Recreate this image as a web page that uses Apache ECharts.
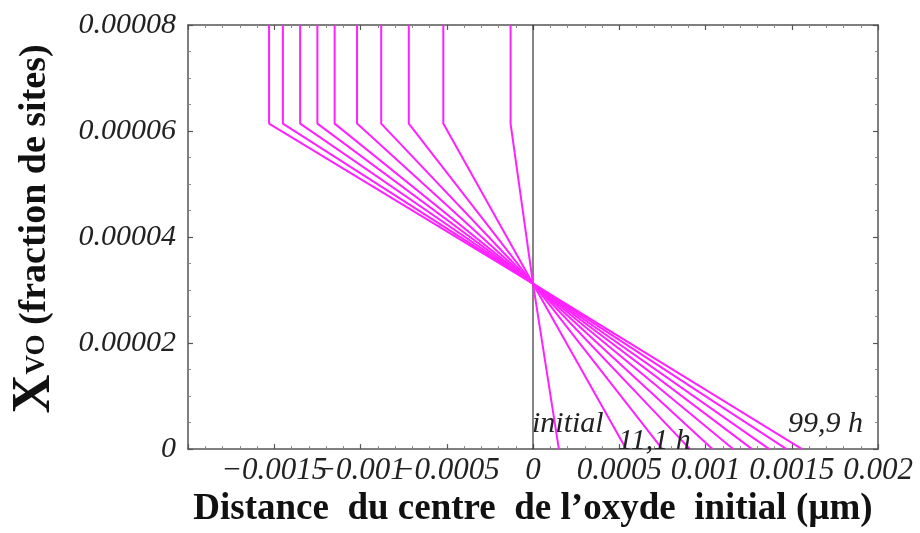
<!DOCTYPE html>
<html>
<head>
<meta charset="utf-8">
<script src="https://cdn.jsdelivr.net/npm/echarts@6/dist/echarts.min.js"></script>
<style>
  html, body { margin: 0; padding: 0; background: #fff; }
  #chart { width: 920px; height: 533px; }
</style>
</head>
<body>
<div id="chart"></div>
<script>
// Durations of each profile (series names)
var seriesNames = ['initial', '11,1 h', '22,2 h', '33,3 h', '44,4 h', '55,5 h', '66,6 h', '77,7 h', '88,8 h', '99,9 h'];
// x of the vertical (flat) part of each profile, µm
var plateauX = [-0.00013, -0.00052, -0.00072, -0.00088, -0.00102, -0.00115, -0.00125, -0.00135, -0.00145, -0.00153];
// x where each profile reaches zero, µm
var zeroX = [0.00015, 0.00054, 0.00075, 0.00091, 0.00104, 0.00116, 0.00127, 0.00137, 0.00147, 0.00156];
// common y values
var topY = 0.00008;
var kinkY = 0.0000614;
var crossY = 0.0000312;
var crossX = 0;
// tick settings
var xTicks = { min: -0.002, max: 0.002, interval: 0.0005 };
var yTicks = { min: 0, max: 0.00008, interval: 0.00002 };

var serif = 'Liberation Serif';
var frameColor = '#555';

function fmtX(v) {
  if (Math.abs(v) < 1e-12) return '0';
  if (Math.abs(v + 0.002) < 1e-9) return '';
  var s = String(+Math.abs(v).toFixed(4));
  return (v < 0 ? '\u2212' : '') + s;
}
function fmtY(v) {
  if (Math.abs(v) < 1e-12) return '0';
  return Math.abs(v).toFixed(5);
}

function makeAxisX(pos, showLabel) {
  return {
    type: 'value', position: pos,
    min: xTicks.min, max: xTicks.max, interval: xTicks.interval,
    axisLine: { show: true, onZero: false, lineStyle: { color: frameColor, width: 1.5 } },
    axisTick: { show: true, inside: true, length: 5, lineStyle: { color: frameColor, width: 1.2 } },
    minorTick: { show: true, splitNumber: 5, length: 3, lineStyle: { color: '#888', width: 1 } },
    splitLine: { show: false },
    axisLabel: {
      show: showLabel, formatter: fmtX, margin: 6,
      fontFamily: serif, fontStyle: 'italic', fontSize: 31, color: '#222'
    }
  };
}
function makeAxisY(pos, showLabel) {
  return {
    type: 'value', position: pos,
    min: yTicks.min, max: yTicks.max, interval: yTicks.interval,
    axisLine: { show: true, onZero: false, lineStyle: { color: frameColor, width: 1.5 } },
    axisTick: { show: true, inside: true, length: 5, lineStyle: { color: frameColor, width: 1.2 } },
    minorTick: { show: true, splitNumber: 4, length: 3, lineStyle: { color: '#888', width: 1 } },
    splitLine: { show: false },
    axisLabel: {
      show: showLabel, formatter: fmtY, margin: 12,
      fontFamily: serif, fontStyle: 'italic', fontSize: 30, color: '#222'
    }
  };
}

var xBottom = makeAxisX('bottom', true);
xBottom.name = 'Distance  du centre  de l\u2019oxyde  initial (\u00b5m)';
xBottom.nameLocation = 'middle';
xBottom.nameGap = 41;
xBottom.nameTextStyle = { fontFamily: serif, fontWeight: 'bold', fontSize: 37, color: '#111' };

var series = seriesNames.map(function (name, i) {
  return {
    name: name, type: 'line', xAxisIndex: 0, yAxisIndex: 0,
    showSymbol: false, symbol: 'none', silent: true, animation: false,
    lineStyle: { color: '#ff22ff', width: 2 },
    data: [[plateauX[i], topY], [plateauX[i], kinkY], [crossX, crossY], [zeroX[i], 0]],
    z: 3
  };
});
series.push({
  name: 'axe', type: 'line', xAxisIndex: 0, yAxisIndex: 0, symbol: 'none', silent: true,
  animation: false, lineStyle: { color: '#333', width: 1.2 },
  data: [[0, yTicks.min], [0, yTicks.max]], z: 2
});

var chart = echarts.init(document.getElementById('chart'), null, { renderer: 'canvas' });
chart.setOption({
  backgroundColor: '#fff',
  animation: false,
  grid: { left: 188, right: 42, top: 25, bottom: 81, containLabel: false },
  xAxis: [xBottom, makeAxisX('top', false)],
  yAxis: [makeAxisY('left', true), makeAxisY('right', false)],
  series: series,
  graphic: [
    {
      type: 'text', x: 35, y: 229, rotation: Math.PI / 2, z: 10,
      style: {
        text: '{x|X}{v|VO}{p| (fraction de sites)}',
        align: 'center', verticalAlign: 'middle',
        rich: {
          x: { fontFamily: serif, fontWeight: 'bold', fontSize: 54, fill: '#111' },
          v: { fontFamily: serif, fontWeight: 'bold', fontSize: 27, fill: '#111', padding: [4, 0, 0, 0] },
          p: { fontFamily: serif, fontWeight: 'bold', fontSize: 38, fill: '#111' }
        }
      }
    },
    {
      type: 'text', x: 532, y: 424, z: 10,
      style: { text: 'initial', font: 'italic 30px "Liberation Serif"', fill: '#222', align: 'left', verticalAlign: 'middle' }
    },
    {
      type: 'text', x: 618, y: 441, z: 10,
      style: { text: '11,1 h', font: 'italic 30px "Liberation Serif"', fill: '#222', align: 'left', verticalAlign: 'middle' }
    },
    {
      type: 'text', x: 788, y: 424, z: 10,
      style: { text: '99,9 h', font: 'italic 30px "Liberation Serif"', fill: '#222', align: 'left', verticalAlign: 'middle' }
    }
  ]
});
</script>
</body>
</html>
